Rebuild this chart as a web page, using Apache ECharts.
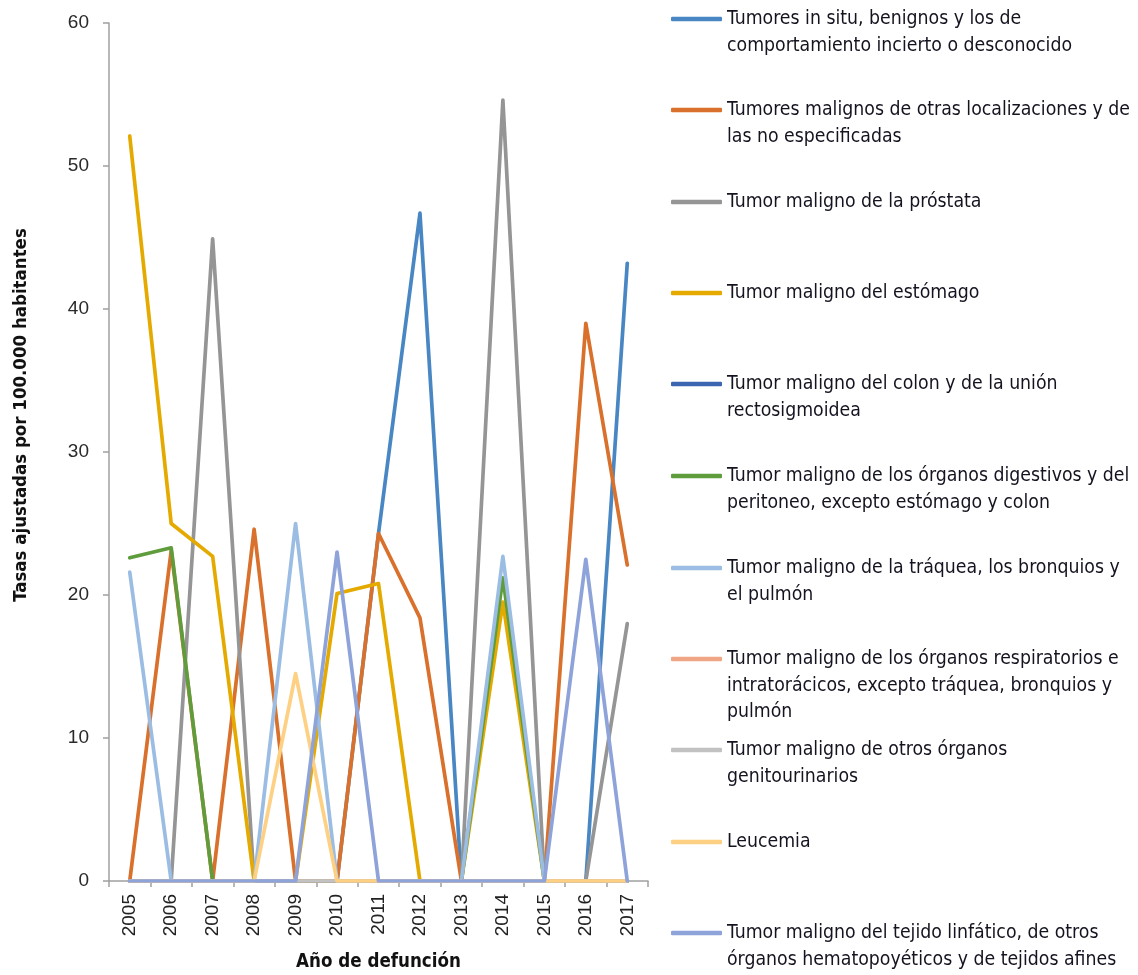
<!DOCTYPE html>
<html><head><meta charset="utf-8">
<script src="https://cdn.jsdelivr.net/npm/echarts@6/dist/echarts.min.js"></script>
<style>html,body{margin:0;padding:0;background:#fff}#c{width:1138px;height:975px}</style>
</head><body><div id="c"></div>
<script>
// ---- data ----
const years = ['2005','2006','2007','2008','2009','2010','2011','2012','2013','2014','2015','2016','2017'];
const tumoresInSitu      = [0, 0, 0, 0, 0, 0, 24.3, 46.7, 0, 0, 0, 0, 43.2];
const otrasLocalizaciones= [0, 23.1, 0, 24.6, 0, 0, 24.3, 18.4, 0, 0, 0, 39.0, 22.1];
const prostata           = [0, 0, 44.9, 0, 0, 0, 0, 0, 0, 54.6, 0, 0, 18.0];
const estomago           = [52.1, 25.0, 22.7, 0, 0, 20.1, 20.8, 0, 0, 19.5, 0, 0, 0];
const colon              = [0, 0, 0, 0, 0, 0, 0, 0, 0, 0, 0, 0, 0];
const digestivos         = [22.6, 23.3, 0, 0, 0, 0, 0, 0, 0, 21.2, 0, 0, 0];
const traquea            = [21.6, 0, 0, 0, 25.0, 0, 0, 0, 0, 22.7, 0, 0, 0];
const respiratorios      = [0, 0, 0, 0, 0, 0, 0, 0, 0, 0, 0, 0, 0];
const genitourinarios    = [0, 0, 0, 0, 0, 0, 0, 0, 0, 0, 0, 0, 0];
const leucemia           = [0, 0, 0, 0, 14.5, 0, 0, 0, 0, 0, 0, 0, 0];
const linfatico          = [0, 0, 0, 0, 0, 23.0, 0, 0, 0, 0, 0, 22.5, 0];
const yTicks = [0, 10, 20, 30, 40, 50, 60];

const seriesNames = [
  'Tumores in situ, benignos y los de comportamiento incierto o desconocido',
  'Tumores malignos de otras localizaciones y de las no especificadas',
  'Tumor maligno de la próstata',
  'Tumor maligno del estómago',
  'Tumor maligno del colon y de la unión rectosigmoidea',
  'Tumor maligno de los órganos digestivos y del peritoneo, excepto estómago y colon',
  'Tumor maligno de la tráquea, los bronquios y el pulmón',
  'Tumor maligno de los órganos respiratorios e intratorácicos, excepto tráquea, bronquios y pulmón',
  'Tumor maligno de otros órganos genitourinarios',
  'Leucemia',
  'Tumor maligno del tejido linfático, de otros órganos hematopoyéticos y de tejidos afines'
];
const legendLines = [
  ['Tumores in situ, benignos y los de', 'comportamiento incierto o desconocido'],
  ['Tumores malignos de otras localizaciones y de', 'las no especificadas'],
  ['Tumor maligno de la próstata'],
  ['Tumor maligno del estómago'],
  ['Tumor maligno del colon y de la unión', 'rectosigmoidea'],
  ['Tumor maligno de los órganos digestivos y del', 'peritoneo, excepto estómago y colon'],
  ['Tumor maligno de la tráquea, los bronquios y', 'el pulmón'],
  ['Tumor maligno de los órganos respiratorios e', 'intratorácicos, excepto tráquea, bronquios y', 'pulmón'],
  ['Tumor maligno de otros órganos', 'genitourinarios'],
  ['Leucemia'],
  ['Tumor maligno del tejido linfático, de otros', 'órganos hematopoyéticos y de tejidos afines']
];
const seriesData = [tumoresInSitu, otrasLocalizaciones, prostata, estomago, colon, digestivos,
  traquea, respiratorios, genitourinarios, leucemia, linfatico];
const colors = ['#4887c3', '#d9702b', '#959595', '#e5aa00', '#3b65b0', '#5f9c3b',
  '#9bbde3', '#f0a585', '#c2c2c2', '#fdd083', '#8ea3d9'];

// ---- layout ----
const legendCenters = [19, 110, 202, 293, 384, 476, 568, 659, 750, 842, 933];
const LH = 26.5;
const narrow = "'Liberation Sans Narrow', 'Arial Narrow', 'DejaVu Sans Condensed', sans-serif";

const legends = seriesNames.map((name, i) => {
  const n = legendLines[i].length;
  const H = (2 * n - 1) * LH;
  // prepend (n-1) empty lines so the first text line sits level with the icon
  const txt = new Array(n - 1).fill('').concat(legendLines[i]).join('\n');
  return {
    show: true,
    data: [name],
    left: 671,
    top: legendCenters[i] - H / 2,
    padding: 0,
    orient: 'vertical',
    icon: 'roundRect',
    itemWidth: 51,
    itemHeight: 4.5,
    itemGap: 0,
    selectedMode: false,
    formatter: txt,
    textStyle: {
      fontFamily: narrow,
      fontSize: 19.3,
      lineHeight: LH,
      color: '#141420',
      backgroundColor: 'rgba(255,255,255,0)'
    }
  };
});

const chart = echarts.init(document.getElementById('c'), null, {renderer: 'canvas'});
chart.setOption({
  animation: false,
  backgroundColor: '#ffffff',
  color: colors,
  legend: legends,
  grid: { left: 109, right: 490, top: 23, bottom: 94, containLabel: false, outerBoundsMode: 'none' },
  xAxis: {
    type: 'category',
    data: years,
    boundaryGap: true,
    name: 'Año de defunción',
    nameLocation: 'middle',
    nameGap: 72,
    nameTextStyle: { fontFamily: narrow, fontWeight: 'bold', fontSize: 18.6, color: '#111' },
    axisLine: { show: true, lineStyle: { color: '#a0a0a0', width: 1.5 } },
    axisTick: { show: true, length: 6, alignWithLabel: false, lineStyle: { color: '#a0a0a0', width: 1.5 } },
    axisLabel: { rotate: 90, margin: 13, fontFamily: "'Liberation Sans', Arial, sans-serif", fontSize: 19, color: '#222' },
    splitLine: { show: false }
  },
  yAxis: {
    type: 'value',
    min: yTicks[0],
    max: yTicks[yTicks.length - 1],
    interval: 10,
    name: 'Tasas ajustadas por 100.000 habitantes',
    nameLocation: 'middle',
    nameGap: 78,
    nameRotate: 90,
    nameTextStyle: { fontFamily: narrow, fontWeight: 'bold', fontSize: 18.5, color: '#111', padding: [0, 0, 0, 74] },
    axisLine: { show: true, lineStyle: { color: '#a0a0a0', width: 1.5 } },
    axisTick: { show: true, length: 6, lineStyle: { color: '#a0a0a0', width: 1.5 } },
    axisLabel: { margin: 20, fontFamily: "'Liberation Sans', Arial, sans-serif", fontSize: 19, color: '#2a2a2a' },
    splitLine: { show: false }
  },
  series: seriesNames.map((name, i) => ({
    name: name,
    type: 'line',
    data: seriesData[i],
    symbol: 'none',
    showSymbol: false,
    lineStyle: { width: 3.7, color: colors[i], cap: 'round', join: 'round' },
    itemStyle: { color: colors[i] },
    emphasis: { disabled: true }
  }))
});
</script>
</body></html>
